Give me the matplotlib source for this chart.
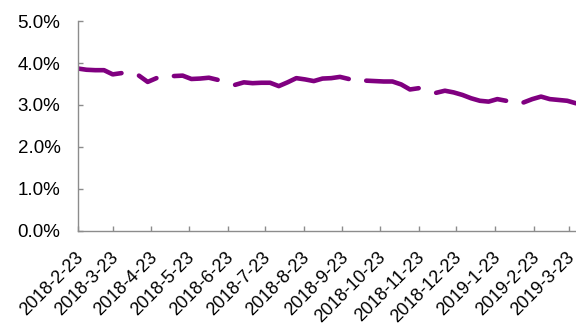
import numpy as np
import pandas as pd
import matplotlib
matplotlib.use("Agg")
import matplotlib.pyplot as plt
from matplotlib.ticker import FuncFormatter, MultipleLocator
from matplotlib.transforms import ScaledTranslation

plt.rcParams["font.family"] = ["Liberation Sans", "DejaVu Sans"]

# 周度数据（单位：%），None 为缺失周
week_dates = pd.date_range("2018-02-23", periods=58, freq="7D")
rate_pct = [
    3.87, 3.84, 3.83, 3.83, 3.73, 3.76, None, 3.70, 3.55, 3.64,
    None, 3.69, 3.70, 3.62, 3.63, 3.65, 3.60, None, 3.48, 3.54,
    3.52, 3.53, 3.53, 3.45, 3.54, 3.64, 3.61, 3.57, 3.63, 3.64,
    3.67, 3.62, None, 3.58, 3.57, 3.56, 3.56, 3.49, 3.37, 3.40,
    None, 3.29, 3.34, 3.30, 3.24, 3.16, 3.10, 3.08, 3.14, 3.10,
    None, 3.06, 3.14, 3.20, 3.14, 3.12, 3.10, 3.04,
]
tick_dates = pd.to_datetime([
    "2018-02-23", "2018-03-23", "2018-04-23", "2018-05-23", "2018-06-23",
    "2018-07-23", "2018-08-23", "2018-09-23", "2018-10-23", "2018-11-23",
    "2018-12-23", "2019-01-23", "2019-02-23", "2019-03-23",
])
tick_labels = [f"{d.year}-{d.month}-{d.day}" for d in tick_dates]

values = np.array([np.nan if v is None else v for v in rate_pct], dtype=float)

fig = plt.figure(figsize=(5.76, 3.25), dpi=100)
ax = fig.add_axes([0.135, 0.29, 0.865, 0.645])

ax.plot(week_dates, values, color="#800080", linewidth=3.3,
        solid_capstyle="round", solid_joinstyle="round")

ax.set_xlim(week_dates[0], week_dates[-1])
ax.set_ylim(0, 5)
ax.yaxis.set_major_locator(MultipleLocator(1))
ax.yaxis.set_major_formatter(FuncFormatter(lambda v, _: f"{v:.1f}%"))

ax.set_xticks(tick_dates)
ax.set_xticklabels(tick_labels, rotation=45, ha="right", va="top",
                   rotation_mode="anchor")

for side in ("top", "right"):
    ax.spines[side].set_visible(False)
for side in ("left", "bottom"):
    ax.spines[side].set_color("#8c8c8c")
    ax.spines[side].set_linewidth(1.0)

ax.tick_params(axis="both", direction="in", length=3.6, width=1.0,
               color="#8c8c8c", labelcolor="#000000")
ax.tick_params(axis="y", pad=12.5, labelsize=13.5)
ax.tick_params(axis="x", pad=13, labelsize=13)

# 日期标签整体略向左移
shift = ScaledTranslation(-3 / 100, 0, fig.dpi_scale_trans)
for lbl in ax.get_xticklabels():
    lbl.set_transform(lbl.get_transform() + shift)

fig.savefig("out.png", dpi=100)
